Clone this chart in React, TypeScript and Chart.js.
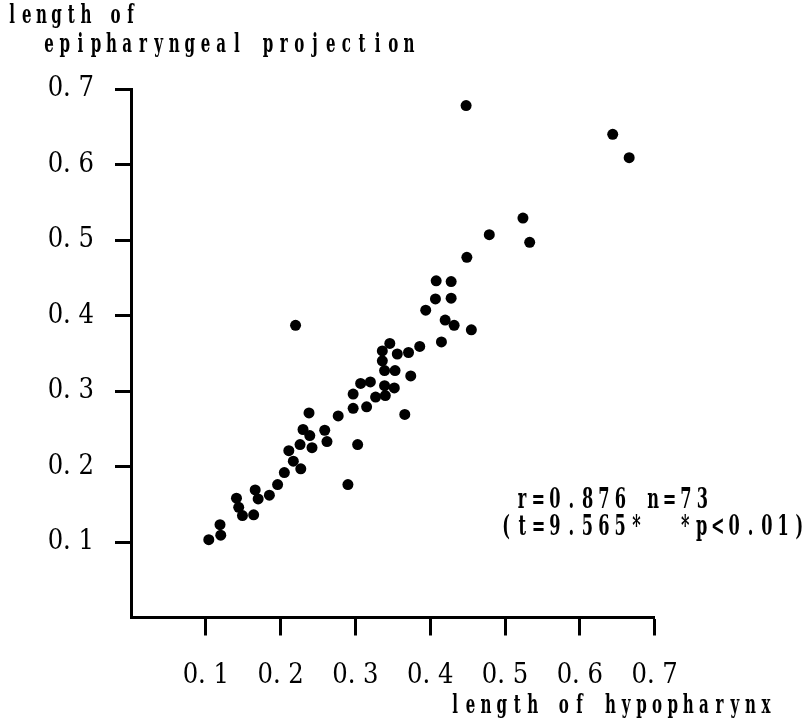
import React, { useEffect, useRef } from "react";
import { Chart, registerables } from "chart.js";

Chart.register(...registerables);

// length of hypopharynx (x)
const hypopharynx = [
  0.104, 0.119, 0.120, 0.141, 0.144, 0.149, 0.164, 0.166, 0.170, 0.185,
  0.196, 0.205, 0.217, 0.227, 0.211, 0.226, 0.242, 0.230, 0.239, 0.259,
  0.262, 0.238, 0.277, 0.297, 0.315, 0.303, 0.290, 0.327, 0.340, 0.297,
  0.352, 0.339, 0.307, 0.320, 0.374, 0.339, 0.353, 0.336, 0.336, 0.356,
  0.371, 0.346, 0.386, 0.366, 0.220, 0.415, 0.455, 0.432, 0.420, 0.394,
  0.407, 0.428, 0.408, 0.428, 0.449, 0.479, 0.533, 0.524, 0.448, 0.644,
  0.666,
];

// length of epipharyngeal projection (y)
const epipharyngeal = [
  0.103, 0.123, 0.109, 0.158, 0.146, 0.135, 0.136, 0.169, 0.157, 0.162,
  0.176, 0.192, 0.207, 0.197, 0.221, 0.229, 0.225, 0.249, 0.241, 0.248,
  0.233, 0.271, 0.267, 0.277, 0.279, 0.229, 0.176, 0.292, 0.294, 0.296,
  0.304, 0.307, 0.310, 0.312, 0.320, 0.327, 0.327, 0.340, 0.353, 0.349,
  0.351, 0.363, 0.359, 0.269, 0.387, 0.365, 0.381, 0.387, 0.394, 0.407,
  0.422, 0.423, 0.446, 0.445, 0.477, 0.507, 0.497, 0.529, 0.678, 0.640,
  0.609,
];

const xTickValues = [0.1, 0.2, 0.3, 0.4, 0.5, 0.6, 0.7];
const xTickLabels = ["0. 1", "0. 2", "0. 3", "0. 4", "0. 5", "0. 6", "0. 7"];
const yTickValues = [0.1, 0.2, 0.3, 0.4, 0.5, 0.6, 0.7];
const yTickLabels = ["0. 1", "0. 2", "0. 3", "0. 4", "0. 5", "0. 6", "0. 7"];

const yTitleLines = ["length of", "epipharyngeal projection"];
const xTitle = "length of hypopharynx";
const statLines = ["r=0.876 n=73", "(t=9.565*  *p<0.01)"];

const TICK_FONT = '"DejaVu Serif Condensed", "DejaVu Sans Condensed", "DejaVu Serif", serif';
const TEXT_FONT = '"DejaVu Serif", "Liberation Serif", serif';

function drawSpaced(
  ctx: CanvasRenderingContext2D,
  text: string,
  x0: number,
  y: number,
  pitch: number,
  sx: number
) {
  for (let i = 0; i < text.length; i++) {
    const ch = text[i];
    if (ch === " ") continue;
    ctx.save();
    ctx.translate(x0 + i * pitch, y);
    ctx.scale(sx, 1);
    ctx.fillText(ch, 0, 0);
    ctx.restore();
  }
}

const textPlugin = {
  id: "figureTexts",
  afterDraw(chart: any) {
    const ctx: CanvasRenderingContext2D = chart.ctx;
    ctx.save();
    ctx.fillStyle = "#000";
    ctx.textAlign = "center";
    ctx.textBaseline = "alphabetic";
    ctx.font = `bold 26px ${TEXT_FONT}`;
    drawSpaced(ctx, yTitleLines[0], 12, 23, 14.8, 0.58);
    drawSpaced(ctx, yTitleLines[1], 49, 52, 15.65, 0.58);
    drawSpaced(ctx, xTitle, 455, 713, 15.55, 0.58);
    ctx.font = `bold 27px ${TEXT_FONT}`;
    drawSpaced(ctx, statLines[0], 522, 508, 16.4, 0.6);
    drawSpaced(ctx, statLines[1], 506, 535, 16.3, 0.6);
    ctx.restore();
  },
};

export default function App() {
  const canvasRef = useRef<HTMLCanvasElement | null>(null);

  useEffect(() => {
    const canvas = canvasRef.current;
    if (!canvas) return;
    const points = hypopharynx.map((x, i) => ({ x, y: epipharyngeal[i] }));
    const chart = new Chart(canvas, {
      type: "scatter",
      data: {
        datasets: [
          {
            data: points,
            backgroundColor: "#000",
            borderColor: "#000",
            borderWidth: 0,
            pointRadius: 5.5,
            pointHoverRadius: 5.5,
          },
        ],
      },
      options: {
        animation: false,
        responsive: false,
        devicePixelRatio: 1,
        events: [],
        layout: { padding: { top: 89, right: 151.4, left: 0, bottom: 0 } },
        plugins: {
          legend: { display: false },
          tooltip: { enabled: false },
          title: { display: false },
        },
        scales: {
          x: {
            type: "linear",
            min: 0,
            max: 0.7,
            afterBuildTicks: (s: any) => {
              s.ticks = xTickValues.map((v) => ({ value: v }));
            },
            afterFit: (s: any) => {
              s.height = 109.5;
            },
            ticks: {
              callback: (_v: any, i: number) => xTickLabels[i],
              font: { family: TICK_FONT, size: 27 },
              color: "#000",
              padding: 24,
              maxRotation: 0,
              autoSkip: false,
            },
            grid: {
              display: true,
              drawOnChartArea: false,
              drawTicks: true,
              tickLength: 18,
              tickWidth: 3,
              tickColor: "#000",
              color: "#000",
            },
            border: { display: true, color: "#000", width: 3 },
          },
          y: {
            type: "linear",
            min: 0,
            max: 0.7,
            afterBuildTicks: (s: any) => {
              s.ticks = yTickValues.map((v) => ({ value: v }));
            },
            afterFit: (s: any) => {
              s.width = 131;
            },
            ticks: {
              callback: (_v: any, i: number) => yTickLabels[i],
              font: { family: TICK_FONT, size: 27 },
              color: "#000",
              padding: 21,
              autoSkip: false,
            },
            grid: {
              display: true,
              drawOnChartArea: false,
              drawTicks: true,
              tickLength: 16,
              tickWidth: 3,
              tickColor: "#000",
              color: "#000",
            },
            border: { display: true, color: "#000", width: 3 },
          },
        },
      },
      plugins: [textPlugin],
    });
    return () => chart.destroy();
  }, []);

  return (
    <div style={{ position: "absolute", left: 0, top: 0, width: 806, height: 727, background: "#fff" }}>
      <canvas ref={canvasRef} width={806} height={727} style={{ display: "block", width: 806, height: 727 }} />
    </div>
  );
}
